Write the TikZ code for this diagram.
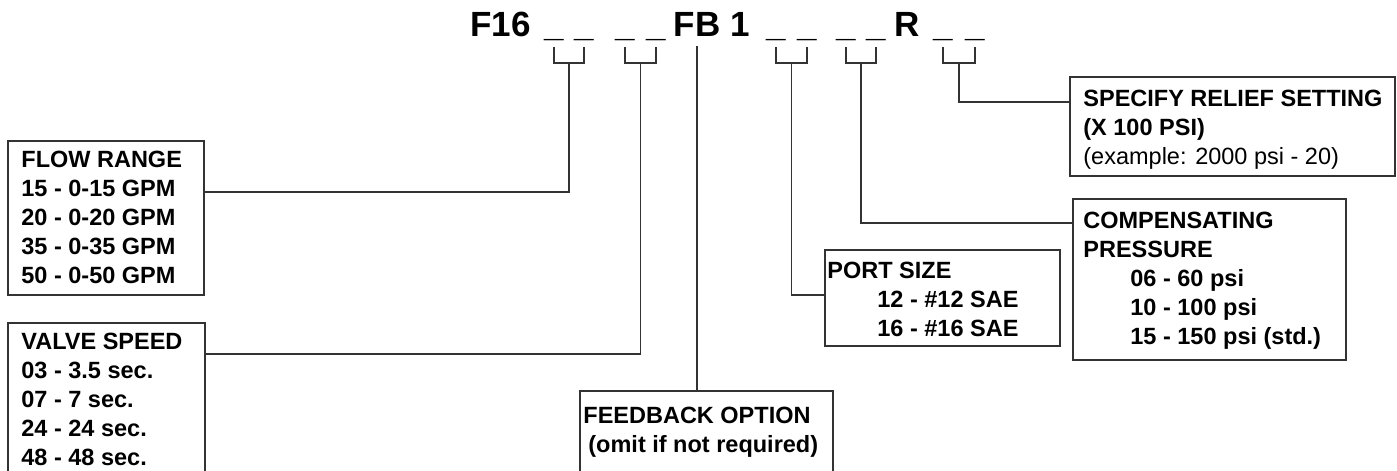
\documentclass[tikz,border=0pt]{standalone}
\usepackage{fontspec}
\setmainfont{Liberation Sans}
\begin{document}
\begin{tikzpicture}[x=0.5pt,y=-0.5pt,
  box/.style={draw=black!80, line width=0.75pt, anchor=north west, inner sep=0pt},
  lbl/.style={anchor=north west, inner sep=0pt, align=left, font=\fontsize{11.75pt}{14.5pt}\selectfont\bfseries},
  ttl/.style={anchor=base west, inner sep=0pt, font=\fontsize{17.5pt}{20pt}\selectfont\bfseries},
  usc/.style={anchor=base, inner sep=0pt, font=\fontsize{17.5pt}{20pt}\selectfont\bfseries},
  conn/.style={draw=black!80, line width=0.65pt}]
\useasboundingbox (0,0) rectangle (1397,471);
\clip (0,0) rectangle (1397,471);
\fill[white] (0,0) rectangle (1397,471);

% title
\node[ttl] (f16) at (470,36) {F16};
\node[ttl] (fb1) at (673.5,36) {FB 1};
\node[ttl] (r) at (894.5,36) {R};
\node[usc] (u1) at (554,36) {\_};
\node[usc] (u2) at (584,36) {\_};
\node[usc] (u3) at (625,36) {\_};
\node[usc] (u4) at (656,36) {\_};
\node[usc] (u5) at (776,36) {\_};
\node[usc] (u6) at (807,36) {\_};
\node[usc] (u7) at (846,36) {\_};
\node[usc] (u8) at (876,36) {\_};
\node[usc] (u9) at (943,36) {\_};
\node[usc] (u10) at (975,36) {\_};

% boxes
\node[box, minimum width=98pt, minimum height=77pt] (flow) at (7,140) {};
\node[box, minimum width=98.5pt, minimum height=85pt] (valve) at (7,322) {};
\node[box, minimum width=126.5pt, minimum height=50pt] (fbox) at (579,390) {};
\node[box, minimum width=117.5pt, minimum height=48pt] (port) at (824,249) {};
\node[box, minimum width=136.5pt, minimum height=80.5pt] (comp) at (1072,198) {};
\node[box, minimum width=162.5pt, minimum height=49.5pt] (relief) at (1069,76) {};

% texts
\node[lbl] (flowt) at (21,151) {FLOW RANGE\\15 - 0-15 GPM\\20 - 0-20 GPM\\35 - 0-35 GPM\\50 - 0-50 GPM};
\node[lbl] (valvet) at (21,333) {VALVE SPEED\\03 - 3.5 sec.\\07 - 7 sec.\\24 - 24 sec.\\48 - 48 sec.};
\node[lbl] (fbt) at (583,407) {FEEDBACK OPTION\\\hspace*{2.5pt}(omit if not required)};
\node[lbl] (portt) at (827,262) {PORT SIZE\\\hspace*{25pt}12 - \#12 SAE\\\hspace*{25pt}16 - \#16 SAE};
\node[lbl] (compt) at (1083,212) {COMPENSATING\\PRESSURE\\\hspace*{23.5pt}06 - 60 psi\\\hspace*{23.5pt}10 - 100 psi\\\hspace*{23.5pt}15 - 150 psi (std.)};
\node[lbl] (relieft) at (1083,90) {SPECIFY RELIEF SETTING\\(X 100 PSI)\\{\mdseries (example: 2000 psi - 20)}};

% helper coordinates
\coordinate (top) at (0,47);
\coordinate (k1) at (569,63);
\coordinate (k2) at (640.5,63);
\coordinate (k3) at (791.5,63);
\coordinate (k4) at (861,63);
\coordinate (k5) at (959,63);
\coordinate (fl) at (0,192);
\coordinate (vl) at (0,354);
\coordinate (pl) at (0,295);
\coordinate (cl) at (0,223);
\coordinate (rl) at (0,102);
\coordinate (fbs) at (697,46);

% brackets
\draw[conn] (u1 |- top) -- (u1 |- k1) -- (u2 |- k1) -- (u2 |- top);
\draw[conn] (u3 |- top) -- (u3 |- k2) -- (u4 |- k2) -- (u4 |- top);
\draw[conn] (u5 |- top) -- (u5 |- k3) -- (u6 |- k3) -- (u6 |- top);
\draw[conn] (u7 |- top) -- (u7 |- k4) -- (u8 |- k4) -- (u8 |- top);
\draw[conn] (u9 |- top) -- (u9 |- k5) -- (u10 |- k5) -- (u10 |- top);

% connectors
\draw[conn] (k1) |- (flow.east |- fl);
\draw[conn] (k2) |- (valve.east |- vl);
\draw[conn] (fbs) -- (fbs |- fbox.north);
\draw[conn] (k3) |- (port.west |- pl);
\draw[conn] (k4) |- (comp.west |- cl);
\draw[conn] (k5) |- (relief.west |- rl);
\end{tikzpicture}
\end{document}
